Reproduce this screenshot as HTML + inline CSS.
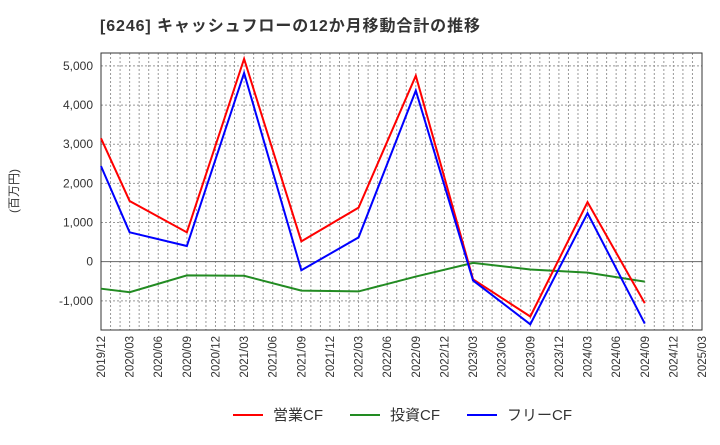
<!DOCTYPE html>
<html><head><meta charset="utf-8">
<style>
body{margin:0;background:#fff;font-family:"Liberation Sans","Noto Sans CJK JP",sans-serif;}
svg text{font-family:"Liberation Sans","Noto Sans CJK JP",sans-serif;}
</style></head>
<body>
<svg id="chart" width="720" height="440" xmlns="http://www.w3.org/2000/svg">
<text x="100" y="31" font-size="16" font-weight="bold" fill="#333" textLength="380" lengthAdjust="spacing">[6246]  キャッシュフローの12か月移動合計の推移</text>
<text transform="translate(18,191) rotate(-90)" text-anchor="middle" font-size="12" fill="#333">(百万円)</text>
<g id="grid"></g><g id="axes"></g><g id="series"></g>
<g>
<line x1="233" y1="415" x2="263" y2="415" stroke="#f00" stroke-width="2"/>
<text x="273" y="420" font-size="15" fill="#333">営業CF</text>
<line x1="350" y1="415" x2="380" y2="415" stroke="#228b22" stroke-width="2"/>
<text x="390" y="420" font-size="15" fill="#333">投資CF</text>
<line x1="467" y1="415" x2="497" y2="415" stroke="#00f" stroke-width="2"/>
<text x="507" y="420" font-size="15" fill="#333">フリーCF</text>
</g>
</svg>
<script>
const tickLabels=["2019/12","2020/03","2020/06","2020/09","2020/12","2021/03","2021/06","2021/09","2021/12","2022/03","2022/06","2022/09","2022/12","2023/03","2023/06","2023/09","2023/12","2024/03","2024/06","2024/09","2024/12","2025/03"];
const yTicks=[-1000,0,1000,2000,3000,4000,5000];
const pointIdx=[0,1,3,5,7,9,11,13,15,17,19];
const operatingCF=[3150,1550,750,5180,520,1380,4750,-450,-1400,1520,-1060];
const investingCF=[-690,-780,-350,-360,-740,-760,-380,-30,-200,-280,-510];
const freeCF=[2440,750,400,4820,-220,620,4370,-480,-1600,1240,-1580];
const L=101,R=702,T=53,B=330;
const yMin=-1745,yMax=5330;
function xs(i){return L+(R-L)*i/(tickLabels.length-1);}
function ys(v){return B-(v-yMin)/(yMax-yMin)*(B-T);}
const NS="http://www.w3.org/2000/svg";
function mk(tag,attrs,parent){const e=document.createElementNS(NS,tag);for(const k in attrs)e.setAttribute(k,attrs[k]);parent.appendChild(e);return e;}
const grid=document.getElementById('grid'),axes=document.getElementById('axes'),ser=document.getElementById('series');
for(let m=1;m<(tickLabels.length-1)*3;m++){const x=L+(R-L)*m/((tickLabels.length-1)*3);
 const g=mk('line',{x1:x,x2:x,y1:T,y2:B,stroke:'#999','stroke-dasharray':'2,2','stroke-width':1},grid);
 
 }
yTicks.forEach(v=>{const y=ys(v);
 const g=mk('line',{x1:L,x2:R,y1:y,y2:y,stroke:v===0?'#666':'#999','stroke-dasharray':v===0?'':'2,2','stroke-width':1},grid);
 
 
 const t=mk('text',{x:L-8,y:y+4,'text-anchor':'end','font-size':12,fill:'#333'},axes);
 t.textContent=v.toLocaleString('en-US');
 
 });
tickLabels.forEach((s,i)=>{const x=xs(i);
 const t=mk('text',{transform:`translate(${x+4},${B+6}) rotate(-90)`,'text-anchor':'end','font-size':11.5,fill:'#333'},axes);
 t.textContent=s;
 
 });
const fr=mk('rect',{x:L,y:T,width:R-L,height:B-T,fill:'none',stroke:'#333','stroke-width':1},axes);


function line(vals,color,name){const pts=vals.map((v,k)=>xs(pointIdx[k])+','+ys(v)).join(' ');
 const p=mk('polyline',{points:pts,fill:'none',stroke:color,'stroke-width':2},ser);
 
 }
line(investingCF,'#228b22','investing-cf-line');
line(operatingCF,'#f00','operating-cf-line');
line(freeCF,'#00f','free-cf-line');
</script>
</body></html>
